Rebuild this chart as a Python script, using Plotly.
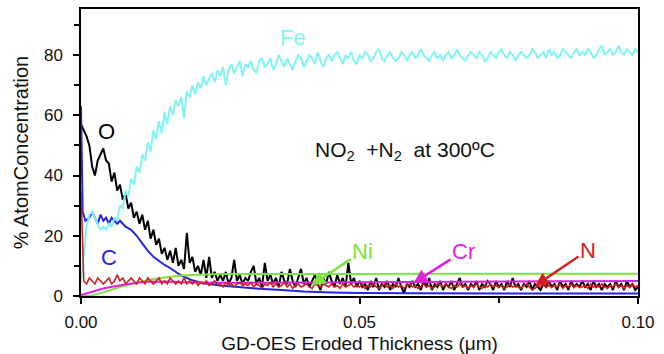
import numpy as np
import plotly.graph_objects as go

# common depth grid for the noisy traces (um), step 0.0005
depth = np.round(np.arange(201) * 0.0005, 4)

fe = [4.5, 14, 23, 27, 28, 26, 24, 22, 23, 22,
      24, 23, 26, 25, 30, 29, 35, 33, 39, 37,
      43, 41, 47, 45, 51, 48, 55, 52, 58, 54,
      61, 57, 63, 60, 65, 63, 66, 59, 68, 66,
      70, 67, 71, 69, 73, 70, 72, 74, 71, 75,
      73, 76, 70, 75, 77, 74, 76, 78, 73, 77,
      76, 78, 75, 74, 78, 79, 76, 77, 79, 75,
      77, 80, 78, 76, 79, 77, 75, 78, 80, 79,
      76, 78, 80, 79, 77, 81, 78, 76, 79, 80,
      78, 80, 81, 79, 77, 80, 79, 81, 78, 77,
      80, 79, 81, 80, 78, 79, 81, 82, 79, 78,
      80, 81, 79, 78, 79, 81, 80, 78, 80, 81,
      79, 80, 82, 80, 79, 78, 80, 81, 79, 80,
      78, 80, 81, 79, 80, 82, 80, 79, 78, 80,
      81, 80, 79, 81, 80, 78, 79, 81, 80, 79,
      81, 82, 80, 79, 81, 80, 78, 80, 81, 80,
      79, 80, 82, 81, 79, 80, 81, 79, 82, 80,
      81, 79, 80, 82, 81, 80, 79, 81, 82, 80,
      81, 80, 82, 81, 79, 80, 82, 83, 80, 81,
      82, 80, 81, 83, 81, 80, 82, 81, 80, 82,
      81]

oxy = [57, 55, 53, 50, 43, 40, 45, 47, 49, 45,
       44, 38, 41, 35, 37, 32, 34, 29, 31, 26,
       28, 24, 27, 22, 25, 19, 22, 17, 19, 14,
       16, 12, 15, 11, 16, 10, 12, 9, 21, 11,
       13, 8, 10, 7, 12, 6, 13, 6, 8, 5,
       7, 5, 8, 4, 6, 12, 5, 7, 4, 6,
       5, 8, 10, 4, 6, 3, 11, 5, 7, 4,
       6, 3, 8, 5, 4, 9, 5, 3, 6, 9,
       4, 6, 3, 5, 7, 4, 2, 6, 4, 8,
       5, 3, 7, 4, 6, 3, 11, 4, 6, 3,
       5, 3, 4, 2, 5, 3, 6, 2, 4, 3,
       5, 2, 4, 3, 6, 3, 1, 4, 3, 5,
       3, 4, 2, 5, 3, 6, 2, 4, 3, 5,
       2, 4, 3, 5, 2, 4, 6, 3, 4, 2,
       4, 3, 5, 2, 4, 3, 5, 4, 2, 5,
       3, 4, 2, 5, 3, 6, 3, 4, 2, 4,
       3, 5, 2, 4, 3, 2, 4, 3, 5, 3,
       4, 2, 5, 3, 4, 2, 5, 3, 4, 3,
       5, 3, 4, 2, 5, 3, 4, 2, 4, 3,
       4, 2, 5, 3, 4, 2, 5, 3, 4, 2,
       3]

nit = [35, 5, 4, 6, 5, 4, 6, 5, 4, 5,
       6, 4, 5, 7, 5, 6, 4, 5, 6, 5,
       4, 6, 5, 4, 6, 5, 4, 5, 6, 4,
       5, 4, 6, 5, 4, 5, 4, 6, 4, 5,
       4, 5, 3.5, 4.5, 4, 5, 3.5, 4, 5, 4,
       4, 3, 4.5, 3.5, 4, 3, 4, 4.5, 3.5, 4,
       3.5, 4.5, 3, 4, 3.5, 2.5, 4, 3.5, 4.5, 3,
       4, 3, 3.5, 4.5, 3, 4, 2.5, 3.5, 4, 3,
       3.5, 4, 3, 2.5, 4, 3.5, 3, 4, 3.5, 3,
       4, 3, 3.5, 2.5, 4, 3, 3.5, 4, 3, 3.5,
       3, 4, 2.5, 3.5, 3, 4, 3, 2.5, 3.5, 4,
       3, 3.5, 2.5, 4, 3, 3.5, 2.5, 3.5, 4, 3,
       3.5, 2.5, 3, 4, 3, 3.5, 2.5, 3, 4, 3.5,
       3, 4, 3, 2.5, 3.5, 3, 4, 3, 3.5, 2.5,
       3.5, 3, 4, 3, 2.5, 3.5, 3, 4, 3, 3.5,
       3, 3.5, 2.5, 3, 4, 3, 3.5, 3, 2.5, 3.5,
       4, 3, 2, 2.5, 3.5, 3, 4, 3, 3.5, 3,
       3.5, 3, 4, 2.5, 3.5, 3, 4, 3, 3.5, 3,
       3, 3.5, 2.5, 4, 3, 3.5, 3, 4, 3, 2.5,
       3.5, 3, 4, 3, 3.5, 2.5, 3.5, 3, 4, 3,
       3.5]

c_x = [0, 0.0003, 0.0008, 0.0015, 0.002, 0.0025, 0.003, 0.0035, 0.004, 0.0045,
       0.005, 0.0055, 0.006, 0.0065, 0.007, 0.008, 0.009, 0.010, 0.011, 0.012,
       0.013, 0.014, 0.015, 0.016, 0.018, 0.020, 0.022, 0.025, 0.028, 0.032,
       0.036, 0.040, 0.045, 0.050, 0.060, 0.070, 0.080, 0.090, 0.100]
carbon = [63, 28, 25, 26, 28, 26, 24, 27, 25, 26,
          24, 26, 25, 24, 25, 23, 22, 20, 17.5, 15,
          13, 11.5, 10.3, 9.3, 6.8, 5.2, 4.2, 3.5, 3.0, 2.4,
          2.0, 1.5, 1.2, 1.0, 0.9, 0.9, 0.8, 0.8, 0.8]

ni_x = [0, 0.002, 0.004, 0.006, 0.008, 0.010, 0.012, 0.014, 0.016, 0.018,
        0.020, 0.022, 0.025, 0.030, 0.040, 0.050, 0.060, 0.070, 0.080, 0.090, 0.100]
nickel = [0, 0.2, 1.2, 2.5, 3.5, 4.4, 5.2, 5.9, 6.4, 6.8,
          7.0, 7.2, 7.3, 7.3, 7.2, 7.3, 7.4, 7.3, 7.4, 7.4, 7.4]

cr_x = [0, 0.001, 0.002, 0.003, 0.004, 0.006, 0.008, 0.010, 0.012, 0.014, 0.016,
        0.018, 0.020, 0.025, 0.030, 0.040, 0.050, 0.060, 0.070, 0.080, 0.090, 0.100]
chromium = [0.3, 0.8, 1.4, 2.0, 2.5, 3.2, 3.9, 4.4, 4.7, 4.8, 4.8,
            4.6, 4.5, 4.4, 4.4, 4.5, 4.7, 4.8, 4.9, 5.0, 5.0, 5.0]

x_ticks = [0.0, 0.05, 0.10]
x_ticklabels = ["0.00", "0.05", "0.10"]
y_ticks = [0, 20, 40, 60, 80]

COL_FE = "#80F4F4"
COL_O = "#000000"
COL_C = "#2424E6"
COL_N = "#D02020"
COL_NI = "#80E23C"
COL_CR = "#E020E0"

FONT = "Arial, Liberation Sans, sans-serif"

fig = go.Figure()
fig.add_trace(go.Scatter(x=depth, y=oxy, mode="lines", line=dict(color=COL_O, width=2), name="O"))
fig.add_trace(go.Scatter(x=c_x, y=carbon, mode="lines", line=dict(color=COL_C, width=2), name="C"))
fig.add_trace(go.Scatter(x=depth, y=fe, mode="lines", line=dict(color=COL_FE, width=2), name="Fe"))
fig.add_trace(go.Scatter(x=ni_x, y=nickel, mode="lines", line=dict(color=COL_NI, width=2), name="Ni"))
fig.add_trace(go.Scatter(x=cr_x, y=chromium, mode="lines", line=dict(color=COL_CR, width=2), name="Cr"))
fig.add_trace(go.Scatter(x=depth, y=nit, mode="lines", line=dict(color=COL_N, width=1.6), name="N"))

def label(text, x, y, color, size=22):
    fig.add_annotation(x=x, y=y, text=text, showarrow=False,
                       font=dict(family=FONT, size=size, color=color),
                       xanchor="center", yanchor="middle")

def arrow_label(text, x, y, ax, ay, color, size=22):
    fig.add_annotation(x=x, y=y, text=text, showarrow=True, ax=ax, ay=ay,
                       font=dict(family=FONT, size=size, color=color),
                       arrowhead=2, arrowsize=1.1, arrowwidth=2.5, arrowcolor=color)

label("Fe", 0.0380, 86.0, COL_FE)
label("O", 0.0046, 54.7, COL_O)
label("C", 0.0050, 12.8, COL_C)
label("NO<sub>2</sub>  +N<sub>2</sub>  at 300ºC", 0.0581, 48.2, "#111111", size=21)

arrow_label("Ni", 0.0414, 3.6, 51, -34, COL_NI)
arrow_label("Cr", 0.0597, 4.3, 50, -32, COL_CR)
arrow_label("N", 0.0815, 3.3, 53, -36, COL_N)

fig.update_layout(
    width=664, height=354,
    margin=dict(l=81, r=26, t=9, b=58),
    paper_bgcolor="white", plot_bgcolor="white",
    showlegend=False,
    font=dict(family=FONT, size=18, color="#111111"),
)
fig.update_xaxes(
    range=[0, 0.1], tickvals=x_ticks, ticktext=x_ticklabels,
    ticks="outside", ticklen=6, tickwidth=1.5, tickcolor="black",
    minor=dict(tickvals=[0.025, 0.075], ticks="outside", ticklen=5, tickwidth=1.5, tickcolor="black"),
    showline=True, linecolor="black", linewidth=1.5, mirror=True,
    showgrid=False, zeroline=False, automargin=False,
    tickfont=dict(size=17), ticklabelstandoff=4,
    title=dict(text="GD-OES Eroded Thickness (μm)", font=dict(size=19), standoff=7),
)
fig.update_yaxes(
    range=[0, 95.3], tickvals=y_ticks,
    ticks="outside", ticklen=6, tickwidth=1.5, tickcolor="black",
    minor=dict(tickvals=[10, 30, 50, 70, 90], ticks="outside", ticklen=5, tickwidth=1.5, tickcolor="black"),
    showline=True, linecolor="black", linewidth=1.5, mirror=True,
    showgrid=False, zeroline=False, automargin=False,
    tickfont=dict(size=17), ticklabelstandoff=7,
    title=dict(text="% AtomConcentration", font=dict(size=20), standoff=10),
)

fig.write_html("out.html", config={"displayModeBar": False},
               post_script="document.body.style.margin='0px';document.body.style.overflow='hidden';")
